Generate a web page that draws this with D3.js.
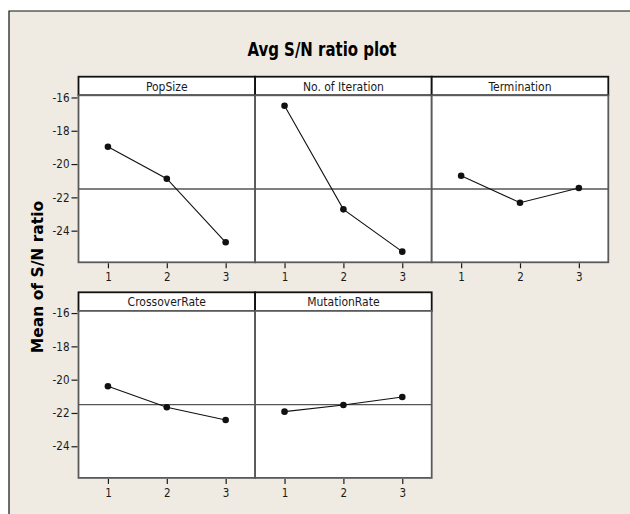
<!DOCTYPE html>
<html>
<head>
<meta charset="utf-8">
<script src="https://cdn.jsdelivr.net/npm/d3@7"></script>
<style>
  body { margin: 0; background: #fff; }
  svg { display: block; }
  .tick text { font-family: "Liberation Sans Narrow", "DejaVu Sans Condensed", sans-serif; font-size: 11.5px; fill: #1a1a1a; }
  .tick line { stroke: #1a1a1a; stroke-width: 1.2; }
</style>
</head>
<body>
<svg id="chart"></svg>
<script>
// Data
const factors = ['PopSize', 'No. of Iteration', 'Termination', 'CrossoverRate', 'MutationRate'];
const levels = [1, 2, 3];
const popSize = [-18.96, -20.88, -24.70];
const noOfIteration = [-16.50, -22.72, -25.26];
const termination = [-20.70, -22.32, -21.44];
const crossoverRate = [-20.40, -21.66, -22.42];
const mutationRate = [-21.92, -21.52, -21.04];
const grandMean = -21.5;
const yTicks = [-16, -18, -20, -22, -24];

const series = [popSize, noOfIteration, termination, crossoverRate, mutationRate];

const W = 630, H = 514;
const svg = d3.select('#chart').attr('width', W).attr('height', H);

// figure background + frame (top and left edge only visible)
svg.append('rect').attr('x', 9).attr('y', 11).attr('width', W).attr('height', H)
    .attr('fill', '#efebe2');
svg.append('path').attr('d', `M9,${H}V11H${W}`)
    .attr('fill', 'none').attr('stroke', '#111').attr('stroke-width', 1.2);

svg.append('text')
    .attr('x', 322).attr('y', 56)
    .attr('text-anchor', 'middle')
    .attr('textLength', 149)
    .attr('lengthAdjust', 'spacingAndGlyphs')
    .style('font-family', '"Liberation Sans Narrow", "DejaVu Sans Condensed", sans-serif')
    .style('font-weight', 'bold')
    .style('font-size', '20px')
    .text('Avg S/N ratio plot');

svg.append('text')
    .attr('transform', 'translate(42.5,277) rotate(-90)')
    .attr('text-anchor', 'middle')
    .style('font-family', '"DejaVu Sans", Verdana, sans-serif')
    .style('font-weight', 'bold')
    .style('font-size', '15.5px')
    .text('Mean of S/N ratio');

// panel grid
const left = 78.5, pw = 176.6;
const top0 = 76.7, rowStep = 215.6;
const headH = 18.6, ph = 167;

const x = d3.scaleLinear().domain([0.5, 3.5]).range([0, pw]);
const y = d3.scaleLinear().domain([-25.9, -15.87]).range([ph, 0]);

const line = d3.line()
    .x((d, i) => x(levels[i]))
    .y(d => y(d));

factors.forEach((name, i) => {
  const col = i % 3, row = Math.floor(i / 3);
  const g = svg.append('g')
      .attr('transform', `translate(${left + col * pw},${top0 + row * rowStep})`);

  // header strip
  g.append('rect').attr('width', pw).attr('height', headH)
      .attr('fill', '#fff').attr('stroke', '#111').attr('stroke-width', 1.8);
  g.append('text')
      .attr('x', pw / 2).attr('y', 14.2)
      .attr('text-anchor', 'middle')
      .style('font-family', '"Liberation Sans Narrow", "DejaVu Sans Condensed", sans-serif')
      .style('font-size', '12px')
      .style('fill', '#1a1a1a')
      .text(name);

  const p = g.append('g').attr('transform', `translate(0,${headH})`);
  p.append('rect').attr('width', pw).attr('height', ph)
      .attr('fill', '#fff').attr('stroke', '#5a5a5a').attr('stroke-width', 1.8);

  p.append('line')
      .attr('x1', 0).attr('x2', pw)
      .attr('y1', y(grandMean)).attr('y2', y(grandMean))
      .attr('stroke', '#555').attr('stroke-width', 1.4);

  p.append('path')
      .datum(series[i])
      .attr('d', line)
      .attr('fill', 'none').attr('stroke', '#111').attr('stroke-width', 1.1);

  p.selectAll('.pt')
    .data(series[i])
    .enter().append('circle')
      .attr('class', 'pt')
      .attr('cx', (d, j) => x(levels[j]))
      .attr('cy', d => y(d))
      .attr('r', 3.3)
      .attr('fill', '#111');

  // x axis on every panel
  const xa = p.append('g')
      .attr('transform', `translate(0,${ph + 1})`)
      .call(d3.axisBottom(x).tickValues(levels).tickSize(5).tickPadding(3).tickFormat(d3.format('d')));
  xa.select('.domain').remove();
  xa.selectAll('text').attr('dy', '0.85em');

  // y axis only on first column
  if (col === 0) {
    const ya = p.append('g')
        .attr('transform', 'translate(-1,0)')
        .call(d3.axisLeft(y).tickValues(yTicks).tickSize(6).tickPadding(2).tickFormat(d => String(d)));
    ya.select('.domain').remove();
  }
});
</script>
</body>
</html>
